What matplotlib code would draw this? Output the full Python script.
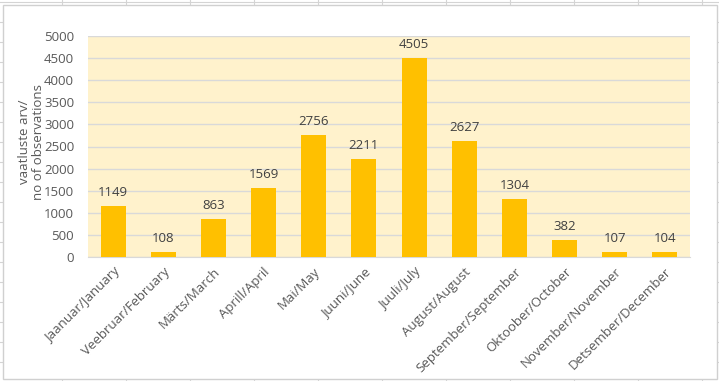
import numpy as np
import matplotlib.pyplot as plt
from matplotlib.patches import Rectangle
from matplotlib.lines import Line2D

months = ["Jaanuar/January", "Veebruar/February", "Märts/March", "Aprill/April",
          "Mai/May", "Juuni/June", "Juuli/July", "August/August",
          "September/September", "Oktoober/October", "November/November",
          "Detsember/December"]
counts = [1149, 108, 863, 1569, 2756, 2211, 4505, 2627, 1304, 382, 107, 104]
yticks = np.arange(0, 5001, 500)

plt.rcParams['font.family'] = ['Open Sans', 'DejaVu Sans']
txt = "#595959"
W, H = 719, 381

fig = plt.figure(figsize=(W / 100, H / 100), dpi=100)

# spreadsheet grid behind the chart object
for y in range(2, H, 20):
    fig.add_artist(Line2D([0, 1], [1 - y / H] * 2, color="#D4D4D4", lw=0.8, zorder=-3))
for x in range(62, W, 64):
    fig.add_artist(Line2D([x / W] * 2, [0, 1], color="#D4D4D4", lw=0.8, zorder=-3))
fig.add_artist(Rectangle((3 / W, 2 / H), 714 / W, 374 / H, facecolor="white",
                         edgecolor="#D0D0D0", lw=1.0, zorder=-2))

ax = fig.add_axes([88 / W, 1 - 257 / H, 602 / W, 221 / H])
ax.set_facecolor("#FFF2CC")
x = np.arange(len(months))
bars = ax.bar(x, counts, width=0.5, color="#FFC000", zorder=3)
for xi, v in zip(x, counts):
    ax.annotate(str(v), (xi, v), xytext=(0, 5), textcoords="offset points",
                ha="center", va="bottom", fontsize=9.5, color="#404040")

ax.set_xlim(-0.5, len(months) - 0.5)
ax.set_ylim(0, 5000)
ax.set_yticks(yticks)
ax.yaxis.grid(True, color="#D9D9D9", lw=1, zorder=1)
ax.set_axisbelow(True)
ax.set_xticks(x)
ax.set_xticklabels(months, rotation=45, ha="right", rotation_mode="anchor",
                   fontsize=9.5, color=txt)
ax.tick_params(axis="y", labelsize=9.5, labelcolor=txt, length=0, pad=10)
ax.tick_params(axis="x", length=0, pad=6)
for s in ["top", "right", "left"]:
    ax.spines[s].set_visible(False)
ax.spines["bottom"].set_color("#D9D9D9")

fig.text(31 / W, 1 - 142 / H, "vaatluste arv/\nno of observations", rotation=90,
         ha="center", va="center", fontsize=9.5, color=txt, linespacing=1.1)

fig.savefig("out.png", dpi=100)
